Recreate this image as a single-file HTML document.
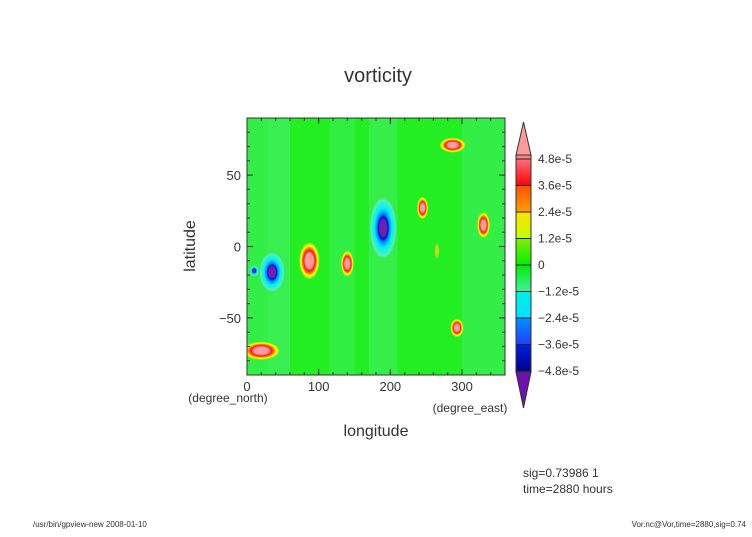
<!DOCTYPE html>
<html><head><meta charset="utf-8"><style>
body{margin:0;background:#fff;}
svg text{font-family:"Liberation Sans",sans-serif;fill:#333;}
</style></head><body>
<svg id="chart" width="752" height="532" viewBox="0 0 752 532" xmlns="http://www.w3.org/2000/svg">
<defs>
<radialGradient id="gpos"><stop offset="0" stop-color="#ff9aa0"/><stop offset="0.4" stop-color="#ff9aa0"/><stop offset="0.52" stop-color="#ff1020"/><stop offset="0.66" stop-color="#ff8000"/><stop offset="0.78" stop-color="#ffff00"/><stop offset="0.9" stop-color="#90f020"/><stop offset="1" stop-color="#22ee22" stop-opacity="0"/></radialGradient>
<radialGradient id="gweak"><stop offset="0" stop-color="#e0e000"/><stop offset="0.6" stop-color="#a0e020"/><stop offset="1" stop-color="#22ee22" stop-opacity="0"/></radialGradient>
<radialGradient id="gneg"><stop offset="0" stop-color="#7020b0"/><stop offset="0.25" stop-color="#7020b0"/><stop offset="0.33" stop-color="#0010d0"/><stop offset="0.42" stop-color="#0080ff"/><stop offset="0.6" stop-color="#00f0f0"/><stop offset="0.85" stop-color="#50f0c0"/><stop offset="1" stop-color="#22ee22" stop-opacity="0"/></radialGradient>
<clipPath id="pclip"><rect x="247" y="118" width="258" height="257"/></clipPath>
</defs>
<text x="378" y="82" font-size="20" text-anchor="middle">vorticity</text>
<g id="plot" clip-path="url(#pclip)"></g>
<rect x="247" y="118" width="258" height="257" fill="none" stroke="#333" stroke-width="1"/>
<g id="axes"></g>
<text x="195" y="246" font-size="16" text-anchor="middle" transform="rotate(-90 195 246)">latitude</text>
<text x="376" y="436" font-size="16" text-anchor="middle">longitude</text>
<text x="228" y="402" font-size="12" text-anchor="middle">(degree_north)</text>
<text x="470" y="412" font-size="12" text-anchor="middle">(degree_east)</text>
<g id="cbar"></g>
<text x="523" y="477" font-size="12">sig=0.73986 1</text>
<text x="523" y="493" font-size="12">time=2880 hours</text>
<text x="33" y="527" font-size="8">/usr/bin/gpview-new  2008-01-10</text>
<text x="746" y="527" font-size="8" text-anchor="end">Vor.nc@Vor,time=2880,sig=0.74</text>
</svg>
<script>
const vortexLon=[20,35,10,87,140,190,245,265,287,293,330];
const vortexLat=[-73,-18,-17,-10,-12,13,27,-3,71,-57,15];
const vortexSign=[1,-1,-1,1,1,-1,1,0,1,1,1];
const vortexRx=[20,14,5,11,7,15,6,3,14,7,7];
const vortexRy=[5,11,3,10,7,17,6,5,4,5,7];
const xTicks=[0,100,200,300];
const yTicks=[-50,0,50];
const cbarLevels=["4.8e-5","3.6e-5","2.4e-5","1.2e-5","0","\u22121.2e-5","\u22122.4e-5","\u22123.6e-5","\u22124.8e-5"];
const cbarTopColors=["#ff7080","#ff5000","#ffe000","#80f000","#00ee00","#00f0e0","#0090ff","#0020e0"];
const cbarBottomColors=["#ff0000","#ffa000","#c0ff00","#00f000","#40f0a0","#00e0ff","#2040ff","#000090"];

const NS="http://www.w3.org/2000/svg";
const sizeK=1.35;
function X(lon){return 247+lon/360*258;}
function Y(lat){return 375-(lat+90)/180*257;}
function mk(t,a,p){const e=document.createElementNS(NS,t);for(const k in a)e.setAttribute(k,a[k]);p.appendChild(e);return e;}
const plot=document.getElementById('plot');
let bg=mk('rect',{x:247,y:118,width:258,height:257,fill:'#22ee22'},plot);


const bands=[[0,30,'#40ee60'],[30,60,'#48ee70'],[115,150,'#3cee5a'],[170,210,'#44ee66'],[300,360,'#40ee60']];
bands.forEach(b=>{const r=mk('rect',{x:X(b[0]),y:118,width:X(b[1])-X(b[0]),height:257,fill:b[2],opacity:0.6},plot);

});
for(let i=0;i<vortexLon.length;i++){
 const s=vortexSign[i];const g=s>0?'gpos':(s<0?'gneg':'gweak');
 const cx=X(vortexLon[i]),cy=Y(vortexLat[i]);
 const rx=vortexRx[i]/360*258*sizeK, ry=vortexRy[i]/180*257*sizeK;
 const e=mk('ellipse',{cx:cx,cy:cy,rx:rx,ry:ry,fill:'url(#'+g+')'},plot);
 
 
}
const axes=document.getElementById('axes');
xTicks.forEach(v=>{mk('line',{x1:X(v),x2:X(v),y1:375,y2:369,stroke:'#333'},axes);mk('line',{x1:X(v),x2:X(v),y1:118,y2:124,stroke:'#333'},axes);
 const t=mk('text',{x:X(v),y:391,'font-size':13,'text-anchor':'middle'},axes);t.textContent=v;
 
 });
for(let v=20;v<360;v+=20){mk('line',{x1:X(v),x2:X(v),y1:375,y2:372,stroke:'#333'},axes);mk('line',{x1:X(v),x2:X(v),y1:118,y2:121,stroke:'#333'},axes);}
yTicks.forEach(v=>{mk('line',{x1:247,x2:253,y1:Y(v),y2:Y(v),stroke:'#333'},axes);mk('line',{x1:505,x2:499,y1:Y(v),y2:Y(v),stroke:'#333'},axes);
 const t=mk('text',{x:241,y:Y(v)+5,'font-size':13,'text-anchor':'end'},axes);t.textContent=v===-50?'\u221250':v;
 
 });
for(let v=-80;v<90;v+=10){mk('line',{x1:247,x2:250,y1:Y(v),y2:Y(v),stroke:'#333'},axes);mk('line',{x1:505,x2:502,y1:Y(v),y2:Y(v),stroke:'#333'},axes);}
const cb=document.getElementById('cbar');
const defs=document.querySelector('defs');
const cbTop=159,step=26.5,bx=516,bw=15;
let tri=mk('polygon',{points:`${bx},155 ${bx+bw},155 ${bx+bw/2},122`,fill:'#ff9a9a',stroke:'#333'},cb);


tri=mk('polygon',{points:`${bx},372 ${bx+bw},372 ${bx+bw/2},408`,fill:'#7010b0',stroke:'#333'},cb);


mk('rect',{x:bx,y:155,width:bw,height:4,fill:'#ff8080'},cb);
for(let i=0;i<cbarTopColors.length;i++){
 const lg=mk('linearGradient',{id:'cb'+i,x1:0,y1:0,x2:0,y2:1},defs);
 mk('stop',{offset:0,'stop-color':cbarTopColors[i]},lg);
 mk('stop',{offset:1,'stop-color':cbarBottomColors[i]},lg);
 const r=mk('rect',{x:bx,y:cbTop+i*step,width:bw,height:step,fill:'url(#cb'+i+')'},cb);
 
 
}
mk('rect',{x:bx,y:cbTop+8*step,width:bw,height:372-(cbTop+8*step),fill:'#5010a0'},cb);
mk('rect',{x:bx,y:155,width:bw,height:217,fill:'none',stroke:'#333'},cb);
cbarLevels.forEach((l,i)=>{const y=cbTop+i*step;mk('line',{x1:bx,x2:bx+bw,y1:y,y2:y,stroke:'#222'},cb);
 const t=mk('text',{x:538,y:y+4,'font-size':12},cb);t.textContent=l;
 
 });
</script>
</body></html>
